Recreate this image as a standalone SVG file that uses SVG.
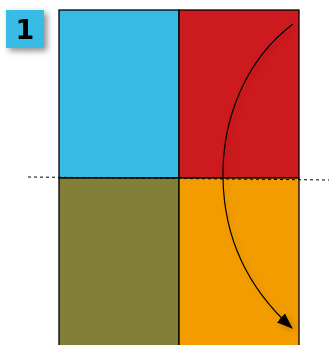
<svg xmlns="http://www.w3.org/2000/svg" width="329" height="345" viewBox="0 0 329 345">
<defs>
<filter id="sh" x="-50%" y="-50%" width="200%" height="200%">
<feGaussianBlur in="SourceAlpha" stdDeviation="3"/>
<feOffset dx="3" dy="3" result="b"/>
<feComponentTransfer><feFuncA type="linear" slope="0.45"/></feComponentTransfer>
<feMerge><feMergeNode/><feMergeNode in="SourceGraphic"/></feMerge>
</filter>
<filter id="sh2" x="-50%" y="-50%" width="200%" height="200%">
<feGaussianBlur in="SourceAlpha" stdDeviation="3"/>
<feOffset dx="3" dy="3" result="b"/>
<feComponentTransfer><feFuncA type="linear" slope="0.18"/></feComponentTransfer>
<feMerge><feMergeNode/><feMergeNode in="SourceGraphic"/></feMerge>
</filter>
<marker id="ah2" markerWidth="16" markerHeight="12" refX="15" refY="6" orient="auto" markerUnits="userSpaceOnUse" viewBox="0 0 16 12">
<path d="M0,0 L16,6 L0,12 Z" fill="#000"/>
</marker>
<style>
.q{stroke:#000;stroke-width:1.3}
</style>
</defs>
<g id="badge" filter="url(#sh)">
<rect x="6" y="10" width="38" height="38" fill="#37bbe4"/>
<text x="25" y="39" font-family="DejaVu Sans, sans-serif" font-weight="bold" font-size="27" text-anchor="middle" fill="#000">1</text>
</g>
<g id="quadrants">
<rect id="tl" class="q" x="59" y="10" width="120" height="168" fill="#37bbe4"/>
<rect id="tr" class="q" x="179" y="10" width="120" height="168" fill="#cc1a1e"/>
<rect id="bl" class="q" x="59" y="178" width="120" height="170" fill="#827f38"/>
<rect id="br" class="q" x="179" y="178" width="120" height="170" fill="#f39c00"/>
</g>
<g id="connectors">
<line x1="28" y1="177" x2="329" y2="180" stroke="#000" stroke-width="1" stroke-dasharray="3,3"/>
<path d="M293,24 C245,60 222,120 223,178 C224,240 250,290 292,328" fill="none" stroke="#000" stroke-width="1.2" marker-end="url(#ah2)" filter="url(#sh2)"/>
</g>
</svg>
